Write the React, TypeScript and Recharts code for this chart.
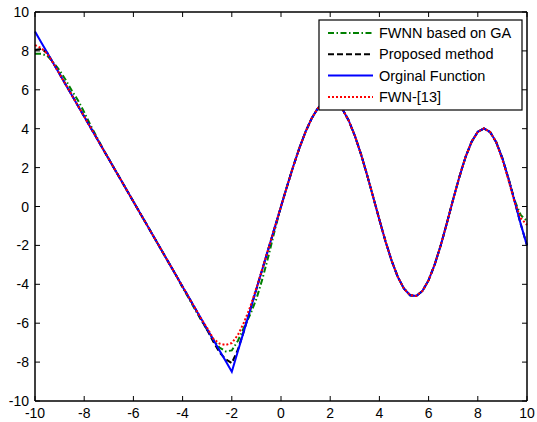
import { Line, LineChart, XAxis, YAxis } from 'recharts';

// x positions, shared by every series
const xValues = [
  -10, -9.75, -9.5, -9.25, -9, -8.75, -8.5, -8.25, -8, -7.75,
  -7.5, -7.25, -7, -6.75, -6.5, -6.25, -6, -5.75, -5.5, -5.25,
  -5, -4.75, -4.5, -4.25, -4, -3.75, -3.5, -3.25, -3, -2.75,
  -2.5, -2.25, -2, -1.75, -1.5, -1.25, -1, -0.75, -0.5, -0.25,
  0, 0.25, 0.5, 0.75, 1, 1.25, 1.5, 1.75, 2, 2.25,
  2.5, 2.75, 3, 3.25, 3.5, 3.75, 4, 4.25, 4.5, 4.75,
  5, 5.25, 5.5, 5.75, 6, 6.25, 6.5, 6.75, 7, 7.25,
  7.5, 7.75, 8, 8.25, 8.5, 8.75, 9, 9.25, 9.5, 9.75,
  10,
];

const fwnnGA = [
  7.85, 7.85, 7.75, 7.4, 7.0, 6.5, 5.95, 5.45, 4.85, 4.2,
  3.6, 3.0, 2.438, 1.892, 1.345, 0.799, 0.252, -0.295, -0.841, -1.388,
  -1.934, -2.481, -3.027, -3.574, -4.17, -4.72, -5.28, -5.83, -6.35, -6.85,
  -7.25, -7.45, -7.4, -6.9, -6.2, -5.55, -4.75, -3.7, -2.5, -1.2,
  0, 1.054, 2.07, 3.013, 3.847, 4.539, 5.057, 5.379, 5.481, 5.354,
  4.996, 4.422, 3.64, 2.696, 1.62, 0.476, -0.685, -1.798, -2.798, -3.626,
  -4.228, -4.562, -4.602, -4.341, -3.788, -2.976, -1.967, -0.823, 0.371, 1.521,
  2.537, 3.334, 3.841, 4.012, 3.829, 3.301, 2.476, 1.425, 0.3, -0.45,
  -0.75,
];

const proposed = [
  8.05, 8.1, 7.9, 7.357, 6.81, 6.264, 5.717, 5.171, 4.624, 4.078,
  3.531, 2.985, 2.438, 1.892, 1.345, 0.799, 0.252, -0.295, -0.841, -1.388,
  -1.934, -2.481, -3.027, -3.574, -4.12, -4.667, -5.213, -5.8, -6.35, -6.95,
  -7.5, -7.85, -8.05, -7.35, -6.369, -5.308, -4.246, -3.185, -2.123, -1.062,
  0, 1.054, 2.07, 3.013, 3.847, 4.539, 5.057, 5.379, 5.481, 5.354,
  4.996, 4.422, 3.64, 2.696, 1.62, 0.476, -0.685, -1.798, -2.798, -3.626,
  -4.228, -4.562, -4.602, -4.341, -3.788, -2.976, -1.967, -0.823, 0.371, 1.521,
  2.537, 3.334, 3.841, 4.012, 3.829, 3.301, 2.476, 1.425, 0.253, -0.929,
  -2.0,
];

const original = [
  8.996, 8.45, 7.903, 7.357, 6.81, 6.264, 5.717, 5.171, 4.624, 4.078,
  3.531, 2.985, 2.438, 1.892, 1.345, 0.799, 0.252, -0.295, -0.841, -1.388,
  -1.934, -2.481, -3.027, -3.574, -4.12, -4.667, -5.213, -5.76, -6.306, -6.853,
  -7.399, -7.946, -8.492, -7.431, -6.369, -5.308, -4.246, -3.185, -2.123, -1.062,
  0, 1.054, 2.07, 3.013, 3.847, 4.539, 5.057, 5.379, 5.481, 5.354,
  4.996, 4.422, 3.64, 2.696, 1.62, 0.476, -0.685, -1.798, -2.798, -3.626,
  -4.228, -4.562, -4.602, -4.341, -3.788, -2.976, -1.967, -0.823, 0.371, 1.521,
  2.537, 3.334, 3.841, 4.012, 3.829, 3.301, 2.476, 1.425, 0.253, -0.929,
  -2.001,
];

const fwn13 = [
  8.3, 8.15, 7.85, 7.357, 6.81, 6.264, 5.717, 5.171, 4.624, 4.078,
  3.531, 2.985, 2.438, 1.892, 1.345, 0.799, 0.252, -0.295, -0.841, -1.388,
  -1.934, -2.481, -3.027, -3.574, -4.12, -4.667, -5.213, -5.76, -6.25, -6.8,
  -7.05, -7.12, -7.02, -6.6, -5.95, -5.15, -4.2, -3.17, -2.123, -1.062,
  0, 1.054, 2.07, 3.013, 3.847, 4.539, 5.057, 5.379, 5.481, 5.354,
  4.996, 4.422, 3.64, 2.696, 1.62, 0.476, -0.685, -1.798, -2.798, -3.626,
  -4.228, -4.562, -4.602, -4.341, -3.788, -2.976, -1.967, -0.823, 0.371, 1.521,
  2.537, 3.334, 3.841, 4.012, 3.829, 3.301, 2.4, 1.35, 0.2, -0.6,
  -0.95,
];

const xTicks = [-10, -8, -6, -4, -2, 0, 2, 4, 6, 8, 10];
const yTicks = [-10, -8, -6, -4, -2, 0, 2, 4, 6, 8, 10];

// drawn in this order, so the red dotted line ends up on top (matlab style)
const seriesList = [
  { key: 'ga', name: 'FWNN based on GA', color: '#008000', dash: '6 2.5 1.5 2.5' },
  { key: 'proposed', name: 'Proposed method', color: '#000000', dash: '6 3' },
  { key: 'original', name: 'Orginal Function', color: '#0000ff', dash: undefined },
  { key: 'fwn', name: 'FWN-[13]', color: '#ff0000', dash: '2 2' },
];

const rows = xValues.map((x, i) => ({
  x,
  ga: fwnnGA[i],
  proposed: proposed[i],
  original: original[i],
  fwn: fwn13[i],
}));

const FONT = 'Arial, "Liberation Sans", sans-serif';
const TICK_LEN = 5;
const axisLine = { stroke: '#000', strokeWidth: 1.5 };

// matlab puts the tick marks inside the box, so draw mark + label by hand
function BottomTick({ x, y, payload }: any) {
  return (
    <g>
      <line x1={x} x2={x} y1={y} y2={y - TICK_LEN} stroke="#000" />
      <text x={x} y={y + 17} textAnchor="middle" fontSize={14} fontFamily={FONT} fill="#000">
        {payload.value}
      </text>
    </g>
  );
}

function LeftTick({ x, y, payload }: any) {
  return (
    <g>
      <line x1={x} x2={x + TICK_LEN} y1={y} y2={y} stroke="#000" />
      <text x={x - 6} y={y + 5} textAnchor="end" fontSize={14} fontFamily={FONT} fill="#000">
        {payload.value}
      </text>
    </g>
  );
}

function TopTick({ x, y }: any) {
  return <line x1={x} x2={x} y1={y} y2={y + TICK_LEN} stroke="#000" />;
}

function RightTick({ x, y }: any) {
  return <line x1={x} x2={x - TICK_LEN} y1={y} y2={y} stroke="#000" />;
}

function LegendBox() {
  return (
    <svg width={205} height={92} style={{ position: 'absolute', left: 318, top: 19 }}>
      <rect x={1} y={1} width={203} height={90} fill="#fff" stroke="#000" strokeWidth={1.2} />
      {seriesList.map((s, i) => {
        const cy = 14 + i * 21.3;
        return (
          <g key={s.key}>
            <line x1={10} x2={55} y1={cy} y2={cy} stroke={s.color} strokeWidth={2} strokeDasharray={s.dash} />
            <text x={61} y={cy + 5} fontSize={14.5} fontFamily={FONT} fill="#000">
              {s.name}
            </text>
          </g>
        );
      })}
    </svg>
  );
}

export default function App() {
  return (
    <div style={{ position: 'absolute', left: 0, top: 0, width: 537, height: 422, background: '#fff' }}>
      <LineChart width={537} height={422} data={rows} margin={{ top: 11, right: 9, bottom: 0, left: 0 }}>
        <XAxis
          dataKey="x"
          type="number"
          domain={[-10, 10]}
          ticks={xTicks}
          height={21}
          tickSize={0}
          tickMargin={0}
          tick={<BottomTick />}
          axisLine={axisLine}
          tickLine={false}
        />
        <XAxis
          xAxisId="top"
          orientation="top"
          dataKey="x"
          type="number"
          domain={[-10, 10]}
          ticks={xTicks}
          height={1}
          tickSize={0}
          tickMargin={0}
          tick={<TopTick />}
          axisLine={axisLine}
          tickLine={false}
        />
        <YAxis
          type="number"
          domain={[-10, 10]}
          ticks={yTicks}
          width={35}
          tickSize={0}
          tickMargin={0}
          tick={<LeftTick />}
          axisLine={axisLine}
          tickLine={false}
        />
        <YAxis
          yAxisId="right"
          orientation="right"
          type="number"
          domain={[-10, 10]}
          ticks={yTicks}
          width={1}
          tickSize={0}
          tickMargin={0}
          tick={<RightTick />}
          axisLine={axisLine}
          tickLine={false}
        />
        {/* invisible series so the top/right frame axes get a scale */}
        <Line
          xAxisId="top"
          yAxisId="right"
          dataKey="original"
          stroke="none"
          dot={false}
          activeDot={false}
          legendType="none"
          isAnimationActive={false}
        />
        {seriesList.map((s) => (
          <Line
            key={s.key}
            dataKey={s.key}
            type="linear"
            stroke={s.color}
            strokeWidth={2}
            strokeDasharray={s.dash}
            dot={false}
            isAnimationActive={false}
          />
        ))}
      </LineChart>
      <LegendBox />
    </div>
  );
}
